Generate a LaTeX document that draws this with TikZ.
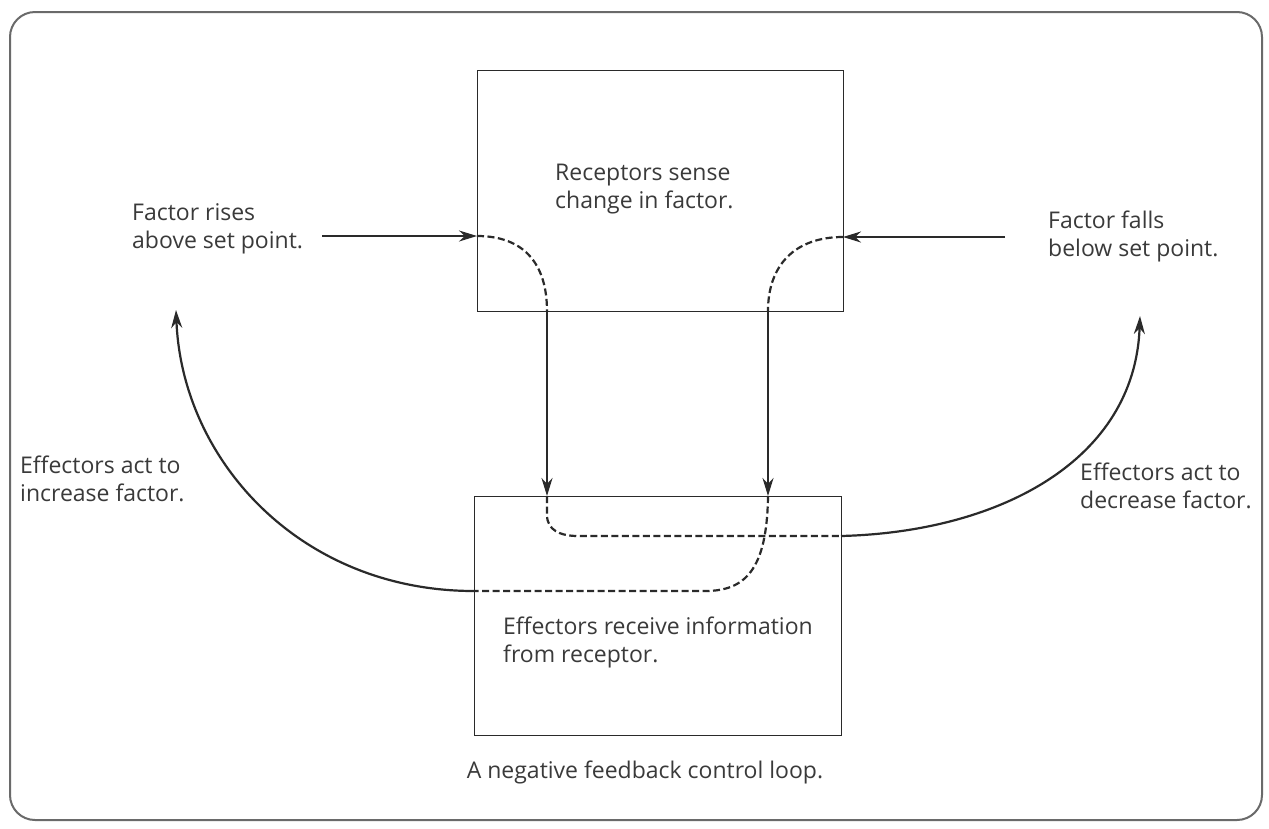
\documentclass[tikz,border=0pt]{standalone}
\usepackage{fontspec}
\setmainfont{Open Sans}
\usetikzlibrary{arrows.meta}
\definecolor{ink}{HTML}{2A2A2A}
\definecolor{txt}{HTML}{3A3A3A}
\definecolor{frame}{HTML}{6A6A6A}
\begin{document}
\begin{tikzpicture}[x=1pt,y=-1pt,
  lbl/.style={text=txt,font=\fontsize{23}{28}\selectfont,align=left,inner sep=0pt,anchor=north west},
  boxx/.style={draw=ink,line width=1.4pt},
  conn/.style={draw=ink,line width=2.2pt},
  dsh/.style={draw=ink,line width=2.2pt,dash pattern=on 7pt off 3.5pt},
  tip/.style={-{Stealth[length=18pt,width=11pt]}}]
\useasboundingbox (0,0) rectangle (1269,828);
\fill[white] (0,0) rectangle (1269,828);
\draw[frame,line width=2pt,rounded corners=25pt] (10,12) rectangle (1262,820);
% boxes
\node[boxx,minimum width=366pt,minimum height=241pt,anchor=north west] (rec) at (477,70) {};
\node[boxx,minimum width=367pt,minimum height=239pt,anchor=north west] (eff) at (474,496) {};
% texts
\node[lbl] (rect) at (555,164) {Receptors sense\\change in factor.};
\node[lbl] (rise) at (132,203) {Factor rises\\above set point.};
\node[lbl] (fall) at (1048,211) {Factor falls\\below set point.};
\node[lbl] (inc) at (20,456) {Effectors act to\\increase factor.};
\node[lbl] (dec) at (1080,463) {Effectors act to\\decrease factor.};
\node[lbl] (efft) at (503,617) {Effectors receive information\\from receptor.};
\node[text=txt,font=\fontsize{23}{28}\selectfont,inner sep=0pt] (cap) at (645,772) {A negative feedback control loop.};
% coordinates
\coordinate (a1) at (322,236);
\coordinate (a2) at (477,236);
\coordinate (b1) at (1005,237);
\coordinate (b2) at (843,237);
\coordinate (l1) at (547,311);
\coordinate (l2) at (547,496);
\coordinate (r1) at (768,311);
\coordinate (r2) at (768,496);
\coordinate (lh) at (841,536);
\coordinate (rh) at (474,591);
\coordinate (upL) at (176,310);
\coordinate (upR) at (1140,316);
% inputs
\draw[conn,tip] (a1) -- (a2);
\draw[conn,tip] (b1) -- (b2);
% left path
\draw[dsh] (a2) .. controls (525,236) and (547,265) .. (l1);
\draw[conn,tip] (l1) -- (l2);
\draw[dsh] (l2) -- (547,515) .. controls (547,530) and (560,536) .. (578,536) -- (lh);
\draw[conn,tip] (lh) .. controls (1000,532) and (1135,460) .. (upR);
% right path
\draw[dsh] (b2) .. controls (795,237) and (768,265) .. (r1);
\draw[conn,tip] (r1) -- (r2);
\draw[dsh] (r2) .. controls (767,570) and (745,591) .. (705,591) -- (rh);
\draw[conn,tip] (rh) .. controls (300,591) and (182,460) .. (upL);
\end{tikzpicture}
\end{document}
